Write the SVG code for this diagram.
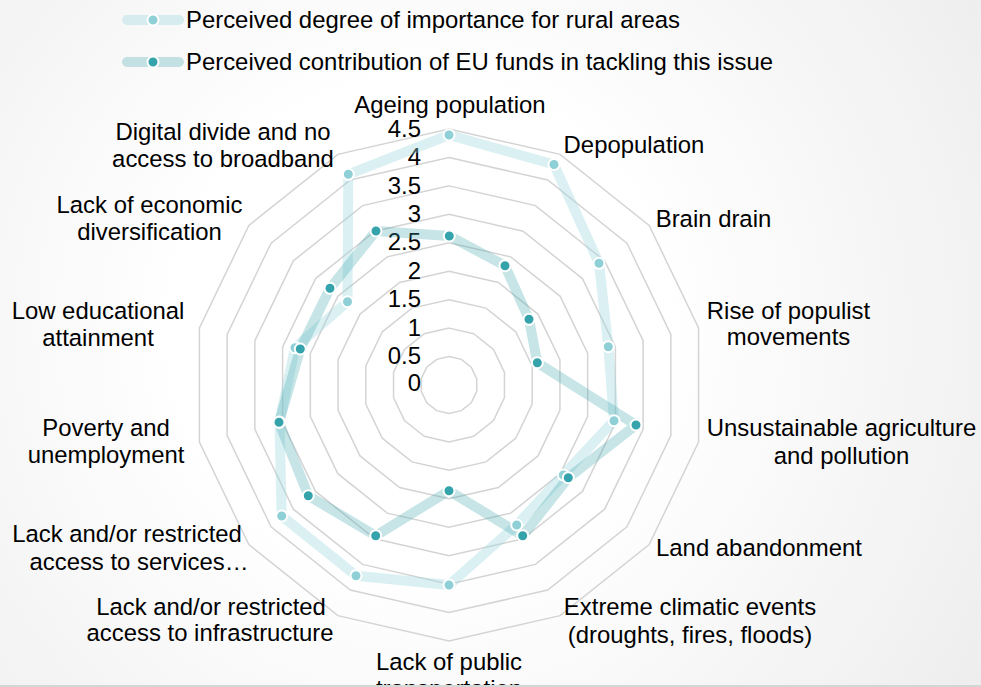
<svg xmlns="http://www.w3.org/2000/svg" width="981" height="687" viewBox="0 0 981 687">
<defs>
<radialGradient id="bg" cx="420" cy="330" r="700" gradientUnits="userSpaceOnUse">
<stop offset="0.35" stop-color="#ffffff"/>
<stop offset="1" stop-color="#ececec"/>
</radialGradient>
<clipPath id="clipB"><rect x="0" y="0" width="981" height="685"/></clipPath>
</defs>
<style>
text{font-family:"Liberation Sans",Arial,sans-serif;font-size:23.9px;fill:#000}
.lbl{text-anchor:middle}
.val{text-anchor:end}
.grid polygon{fill:none;stroke:#d4d4d4;stroke-width:1.5}
.s1{fill:none;stroke:#9fd7dd;stroke-opacity:0.38;stroke-width:10;stroke-linejoin:round;stroke-linecap:round}
.s2{fill:none;stroke:#45a8b1;stroke-opacity:0.3;stroke-width:10;stroke-linejoin:round;stroke-linecap:round}
.m1{fill:#8fd0d7;stroke:#fff;stroke-width:2}
.m2{fill:#35a3ab;stroke:#fff;stroke-width:2}
</style>
<rect width="981" height="687" fill="url(#bg)"/>
<rect x="0" y="685" width="981" height="2" fill="#d6d6d6"/>

<g id="legend">
<g id="legend-importance">
<line x1="127" y1="20" x2="179" y2="20" class="s1"/>
<circle cx="153" cy="20" r="5.5" class="m1"/>
<text x="186" y="28">Perceived degree of importance for rural areas</text>
</g>
<g id="legend-eu">
<line x1="127" y1="62" x2="179" y2="62" class="s2"/>
<circle cx="153" cy="62" r="5.5" class="m2"/>
<text x="186" y="70">Perceived contribution of EU funds in tackling this issue</text>
</g>
</g>

<g id="grid" class="grid" transform="translate(449,385)">
<polygon points="0,-28.44 12.34,-25.63 22.24,-17.74 27.73,-6.33 27.73,6.33 22.24,17.74 12.34,25.63 0,28.44 -12.34,25.63 -22.24,17.74 -27.73,6.33 -27.73,-6.33 -22.24,-17.74 -12.34,-25.63"/>
<polygon points="0,-56.89 24.68,-51.26 44.48,-35.47 55.46,-12.66 55.46,12.66 44.48,35.47 24.68,51.26 0,56.89 -24.68,51.26 -44.48,35.47 -55.46,12.66 -55.46,-12.66 -44.48,-35.47 -24.68,-51.26"/>
<polygon points="0,-85.33 37.03,-76.88 66.72,-53.21 83.19,-18.99 83.19,18.99 66.72,53.21 37.03,76.88 0,85.33 -37.03,76.88 -66.72,53.21 -83.19,18.99 -83.19,-18.99 -66.72,-53.21 -37.03,-76.88"/>
<polygon points="0,-113.78 49.37,-102.51 88.96,-70.94 110.92,-25.32 110.92,25.32 88.96,70.94 49.37,102.51 0,113.78 -49.37,102.51 -88.96,70.94 -110.92,25.32 -110.92,-25.32 -88.96,-70.94 -49.37,-102.51"/>
<polygon points="0,-142.22 61.71,-128.14 111.2,-88.68 138.66,-31.65 138.66,31.65 111.2,88.68 61.71,128.14 0,142.22 -61.71,128.14 -111.2,88.68 -138.66,31.65 -138.66,-31.65 -111.2,-88.68 -61.71,-128.14"/>
<polygon points="0,-170.66 74.05,-153.77 133.43,-106.41 166.39,-37.98 166.39,37.98 133.43,106.41 74.05,153.77 0,170.66 -74.05,153.77 -133.43,106.41 -166.39,37.98 -166.39,-37.98 -133.43,-106.41 -74.05,-153.77"/>
<polygon points="0,-199.11 86.39,-179.4 155.67,-124.15 194.12,-44.31 194.12,44.31 155.67,124.15 86.39,179.4 0,199.11 -86.39,179.4 -155.67,124.15 -194.12,44.31 -194.12,-44.31 -155.67,-124.15 -86.39,-179.4"/>
<polygon points="0,-227.55 98.74,-205.02 177.91,-141.88 221.85,-50.64 221.85,50.64 177.91,141.88 98.74,205.02 0,227.55 -98.74,205.02 -177.91,141.88 -221.85,50.64 -221.85,-50.64 -177.91,-141.88 -98.74,-205.02"/>
<polygon points="0,-256 111.08,-230.65 200.15,-159.62 249.58,-56.97 249.58,56.97 200.15,159.62 111.08,230.65 0,256 -111.08,230.65 -200.15,159.62 -249.58,56.97 -249.58,-56.97 -200.15,-159.62 -111.08,-230.65"/>
</g>

<g id="value-axis">
<text class="val" x="421" y="391">0</text>
<text class="val" x="421" y="364">0.5</text>
<text class="val" x="421" y="336">1</text>
<text class="val" x="421" y="307">1.5</text>
<text class="val" x="421" y="279">2</text>
<text class="val" x="421" y="250">2.5</text>
<text class="val" x="421" y="222">3</text>
<text class="val" x="421" y="194">3.5</text>
<text class="val" x="421" y="165">4</text>
<text class="val" x="421" y="137">4.5</text>
</g>

<g id="connectors">
<polygon id="series-importance" class="s1" points="449,135 554,164.5 599,263.3 608.3,346.7 614,420.7 563.3,475 516.7,525 449,585 356,575.7 281.7,516 279.5,422 295,347.7 347.5,301.7 348.3,174.3"/>
<polygon id="series-eu" class="s2" points="449.3,236 505,265.7 529,319.3 537.3,362.7 636,425 568.3,477.7 522.7,535.7 449,490.7 375.7,535.7 308.3,495.7 279,422.3 300.3,349 330,288.3 376,231"/>
</g>

<g id="markers-importance">
<circle class="m1" cx="449" cy="135" r="5.5"/>
<circle class="m1" cx="554" cy="164.5" r="5.5"/>
<circle class="m1" cx="599" cy="263.3" r="5.5"/>
<circle class="m1" cx="608.3" cy="346.7" r="5.5"/>
<circle class="m1" cx="614" cy="420.7" r="5.5"/>
<circle class="m1" cx="563.3" cy="475" r="5.5"/>
<circle class="m1" cx="516.7" cy="525" r="5.5"/>
<circle class="m1" cx="449" cy="585" r="5.5"/>
<circle class="m1" cx="356" cy="575.7" r="5.5"/>
<circle class="m1" cx="281.7" cy="516" r="5.5"/>
<circle class="m1" cx="279.5" cy="422" r="5.5"/>
<circle class="m1" cx="295" cy="347.7" r="5.5"/>
<circle class="m1" cx="347.5" cy="301.7" r="5.5"/>
<circle class="m1" cx="348.3" cy="174.3" r="5.5"/>
</g>
<g id="markers-eu">
<circle class="m2" cx="449.3" cy="236" r="5.5"/>
<circle class="m2" cx="505" cy="265.7" r="5.5"/>
<circle class="m2" cx="529" cy="319.3" r="5.5"/>
<circle class="m2" cx="537.3" cy="362.7" r="5.5"/>
<circle class="m2" cx="636" cy="425" r="5.5"/>
<circle class="m2" cx="568.3" cy="477.7" r="5.5"/>
<circle class="m2" cx="522.7" cy="535.7" r="5.5"/>
<circle class="m2" cx="449" cy="490.7" r="5.5"/>
<circle class="m2" cx="375.7" cy="535.7" r="5.5"/>
<circle class="m2" cx="308.3" cy="495.7" r="5.5"/>
<circle class="m2" cx="279" cy="422.3" r="5.5"/>
<circle class="m2" cx="300.3" cy="349" r="5.5"/>
<circle class="m2" cx="330" cy="288.3" r="5.5"/>
<circle class="m2" cx="376" cy="231" r="5.5"/>
</g>

<g id="axis-labels">
<g id="lbl-ageing"><text class="lbl" x="450" y="113">Ageing population</text></g>
<g id="lbl-depopulation"><text class="lbl" x="634" y="153">Depopulation</text></g>
<g id="lbl-brain-drain"><text class="lbl" x="713.5" y="227">Brain drain</text></g>
<g id="lbl-populist"><text class="lbl" x="788.5" y="319">Rise of populist</text><text class="lbl" x="788.5" y="345">movements</text></g>
<g id="lbl-agriculture"><text class="lbl" x="841.5" y="436">Unsustainable agriculture</text><text class="lbl" x="841.5" y="464">and pollution</text></g>
<g id="lbl-land"><text class="lbl" x="759" y="556">Land abandonment</text></g>
<g id="lbl-climatic"><text class="lbl" x="690" y="615">Extreme climatic events</text><text class="lbl" x="690" y="643">(droughts, fires, floods)</text></g>
<g id="lbl-transport" clip-path="url(#clipB)"><text class="lbl" x="449" y="670">Lack of public</text><text class="lbl" x="449" y="697">transportation</text></g>
<g id="lbl-infrastructure"><text class="lbl" x="211" y="615">Lack and/or restricted</text><text class="lbl" x="210" y="641">access to infrastructure</text></g>
<g id="lbl-services"><text class="lbl" x="127" y="542">Lack and/or restricted</text><text class="lbl" x="139" y="570">access to services…</text></g>
<g id="lbl-poverty"><text class="lbl" x="106" y="436">Poverty and</text><text class="lbl" x="106" y="463">unemployment</text></g>
<g id="lbl-education"><text class="lbl" x="98" y="319">Low educational</text><text class="lbl" x="98" y="346">attainment</text></g>
<g id="lbl-economic"><text class="lbl" x="149.5" y="213">Lack of economic</text><text class="lbl" x="149.5" y="240">diversification</text></g>
<g id="lbl-digital"><text class="lbl" x="223" y="140">Digital divide and no</text><text class="lbl" x="223" y="167">access to broadband</text></g>
</g>
</svg>
